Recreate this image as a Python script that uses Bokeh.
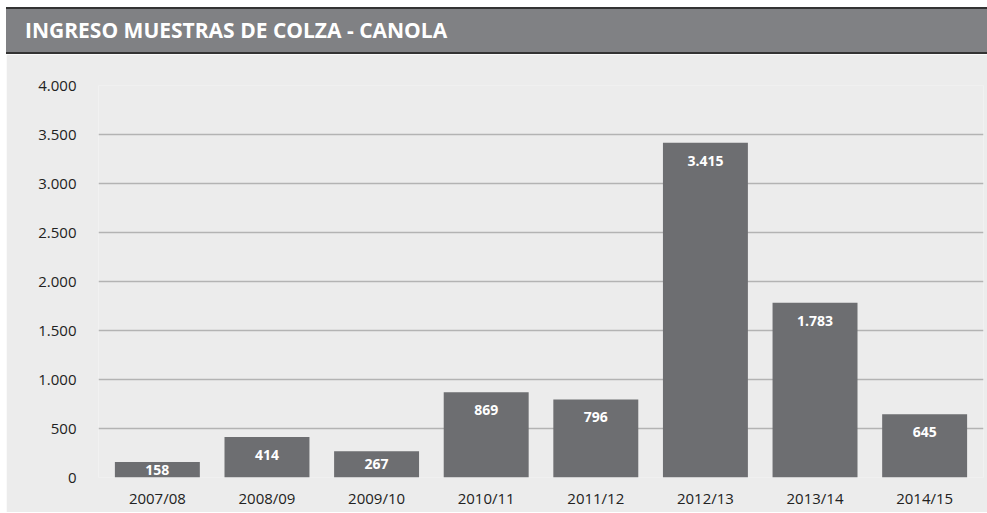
from bokeh.plotting import figure
from bokeh.models import Div, FactorRange, Range1d, FixedTicker, ColumnDataSource
from bokeh.layouts import column
from bokeh.core.properties import value
from bokeh.embed import file_html
from bokeh.resources import INLINE

# ---- data ----
campaigns = ["2007/08", "2008/09", "2009/10", "2010/11", "2011/12", "2012/13", "2013/14", "2014/15"]
samples = [158, 414, 267, 869, 796, 3415, 1783, 645]
sample_labels = ["158", "414", "267", "869", "796", "3.415", "1.783", "645"]
y_ticks = [0, 500, 1000, 1500, 2000, 2500, 3000, 3500, 4000]
y_tick_labels = ["0", "500", "1.000", "1.500", "2.000", "2.500", "3.000", "3.500", "4.000"]
title_text = "INGRESO MUESTRAS DE COLZA - CANOLA"

BG = "#ececec"
BAR = "#6d6e71"
FONT = "Open Sans"

W = 981
HEAD_H = 47
FIG_H = 458
TOP, BOTTOM, LEFT, RIGHT = 31, 35, 92, 4
Y_MAX = 4000
frame_h = FIG_H - TOP - BOTTOM

title_div = Div(
    text=title_text,
    width=W,
    height=HEAD_H,
    margin=(7, 0, 0, 6),
    styles={
        "background-color": "#808184",
        "color": "white",
        "font-family": FONT,
        "font-weight": "bold",
        "font-size": "21px",
        "border-top": "2px solid #333333",
        "border-bottom": "2px solid #333333",
        "padding-left": "19px",
        "box-sizing": "border-box",
        "line-height": "43px",
        "white-space": "nowrap",
        "overflow": "hidden",
    },
)

p = figure(
    x_range=FactorRange(*campaigns, range_padding=0.037, range_padding_units="absolute"),
    y_range=Range1d(0, Y_MAX),
    width=W,
    height=FIG_H,
    margin=(0, 0, 0, 6),
    output_backend="svg",
    toolbar_location=None,
    min_border_left=LEFT,
    min_border_right=RIGHT,
    min_border_top=TOP,
    min_border_bottom=BOTTOM,
    background_fill_color=BG,
    border_fill_color=BG,
    outline_line_color=None,
)

# label offsets: near bar top, but centred in the bar if the bar is short
px_per_unit = frame_h / Y_MAX
offsets = [min(18.0, v * px_per_unit / 2.0) for v in samples]

src = ColumnDataSource(dict(x=campaigns, top=samples, lab=sample_labels, off=offsets))

p.vbar(x="x", top="top", width=0.775, source=src, fill_color=BAR, line_color=None)
p.text(
    x="x", y="top", text="lab", y_offset="off", source=src,
    text_align="center", text_baseline="middle",
    text_color="white", text_font=value(FONT), text_font_style="bold",
    text_font_size="14px",
)

p.xgrid.grid_line_color = None
p.ygrid.ticker = FixedTicker(ticks=y_ticks)
p.ygrid.grid_line_color = "#b3b3b3"
p.ygrid.grid_line_width = 1.5

p.yaxis.ticker = FixedTicker(ticks=y_ticks)
p.yaxis.major_label_overrides = {t: l for t, l in zip(y_ticks, y_tick_labels)}

for ax in (p.xaxis[0], p.yaxis[0]):
    ax.axis_line_color = None
    ax.major_tick_line_color = None
    ax.minor_tick_line_color = None
    ax.major_label_text_font = FONT
    ax.major_label_text_font_size = "15px"
    ax.major_label_text_color = "#222222"

p.yaxis.major_label_standoff = 16
p.xaxis.major_label_standoff = 4

layout = column(title_div, p, spacing=0)

open("out.html", "w").write(file_html(layout, INLINE))
